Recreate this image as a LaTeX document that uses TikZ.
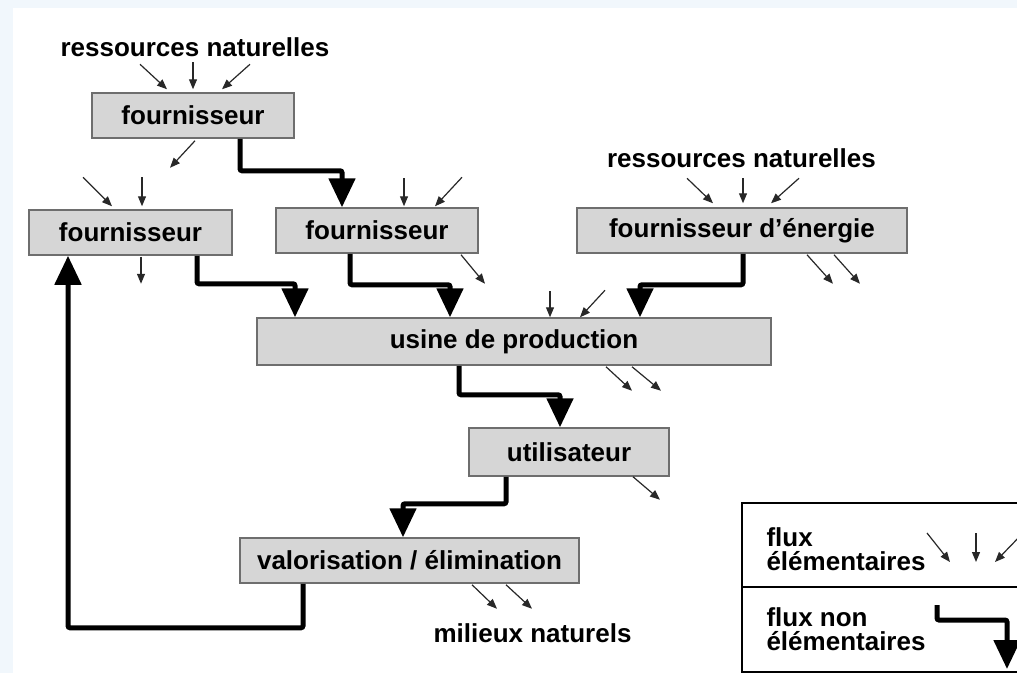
\documentclass[tikz,border=0pt]{standalone}
\usepackage{fontspec}
\setmainfont{Liberation Sans}
\usetikzlibrary{arrows.meta}
\definecolor{light}{RGB}{214, 214, 214}
\definecolor{frame}{RGB}{110, 110, 110}
\definecolor{edge}{RGB}{241, 247, 252}
\definecolor{thin}{RGB}{40, 40, 40}

\begin{document}
\begin{tikzpicture}[x=1pt, y=-1pt,
  font=\fontsize{26}{24}\selectfont\bfseries,
  box/.style={draw=frame, line width=1.5pt, fill=light, inner sep=0pt},
  elem/.style={color=thin, line width=1.2pt, -{Triangle[length=10pt, width=8pt]}},
  nonelem/.style={line width=5pt, rounded corners=2pt, -{Triangle[length=29pt, width=26pt]}}]

  \clip (0, 0) rectangle (1017, 673);
  \fill[white] (0, 0) rectangle (1017, 673);
  \fill[edge] (0, 0) rectangle (1017, 8);
  \fill[edge] (0, 0) rectangle (13, 673);

  \node (res1) at (195, 47) {ressources naturelles};
  \node (res2) at (741.5, 158) {ressources naturelles};
  \node[anchor=west] (milieux) at (430, 633) {milieux naturels};

  \node[box, minimum width=202, minimum height=45] (four1) at (193, 115.5) {fournisseur};
  \node[box, minimum width=203, minimum height=45] (four2) at (130.5, 232.5) {fournisseur};
  \node[box, minimum width=202, minimum height=45] (four3) at (377, 230.5) {fournisseur};
  \node[box, minimum width=330, minimum height=45] (energie) at (742, 230.5) {fournisseur d'énergie};
  \node[box, minimum width=514, minimum height=47] (usine) at (514, 341.5) {usine de production};
  \node[box, minimum width=200, minimum height=48] (util) at (569, 452) {utilisateur};
  \node[box, minimum width=339, minimum height=45] (valo) at (409.5, 560.5) {valorisation / élimination};

  % flux elementaires
  \foreach \n/\a/\sx/\sy/\vx/\vy in {four1/north/-53/-28/27/25, four1/north/0/-30/0/27,
      four1/north/57/-28/-28/25, four1/south/2/2/-25/27,
      four2/north/-47.5/-32/29/29, four2/north/11.5/-32/0/29, four2/south/10.5/1/0/27,
      four3/north/27/-29/0/28, four3/north/85/-30/-27/29, four3/south/84/1/24/29,
      energie/north/-55/-29/26/25, energie/north/1/-29/0/25, energie/north/57/-29/-28/25,
      energie/south/65/1/26/29, energie/south/92/1/26/29,
      usine/north/36/-26/0/26, usine/north/91/-27/-25/27,
      usine/south/92/1/26/24, usine/south/118/1/29/24,
      util/south/64/0/27/23,
      valo/south/62.5/1/25/24, valo/south/96.5/1/26/24}
    \draw[elem] (\n.\a) ++(\sx, \sy) -- ++(\vx, \vy);

  % flux non elementaires
  \draw[nonelem] ([xshift=47]four1.south) -- ++(0, 32) -| ([xshift=-35]four3.north);
  \draw[nonelem] ([xshift=66.5]four2.south) -- ++(0, 28) -| ([xshift=-219]usine.north);
  \draw[nonelem] ([xshift=-27]four3.south) -- ++(0, 31) -| ([xshift=-64]usine.north);
  \draw[nonelem] ([xshift=1]energie.south) -- ++(0, 31) -| ([xshift=126]usine.north);
  \draw[nonelem] ([xshift=-55]usine.south) -- ++(0, 29) -| ([xshift=-9]util.north);
  \draw[nonelem] ([xshift=-63]util.south) -- ++(0, 27) -| ([xshift=-6.5]valo.north);
  \draw[nonelem] ([xshift=-106.5]valo.south) -- ++(0, 44) -| ([xshift=-62.5]four2.south);

  % legende
  \draw[line width=2pt] (742, 503) rectangle (1030, 672);
  \draw[line width=2pt] (742, 587) -- (1030, 587);
  \node[anchor=west, align=left] (leg1) at (763, 549) {flux\\élémentaires};
  \node[anchor=west, align=left] (leg2) at (763, 629) {flux non\\élémentaires};
  \draw[elem] (927, 533) -- (950, 562);
  \draw[elem] (976, 533) -- (976, 562);
  \draw[elem] (1024, 532) -- (995, 562);
  \draw[nonelem] (937, 605) -- (937, 620) -- (1007, 620) -- (1007, 669);

\end{tikzpicture}
\end{document}
